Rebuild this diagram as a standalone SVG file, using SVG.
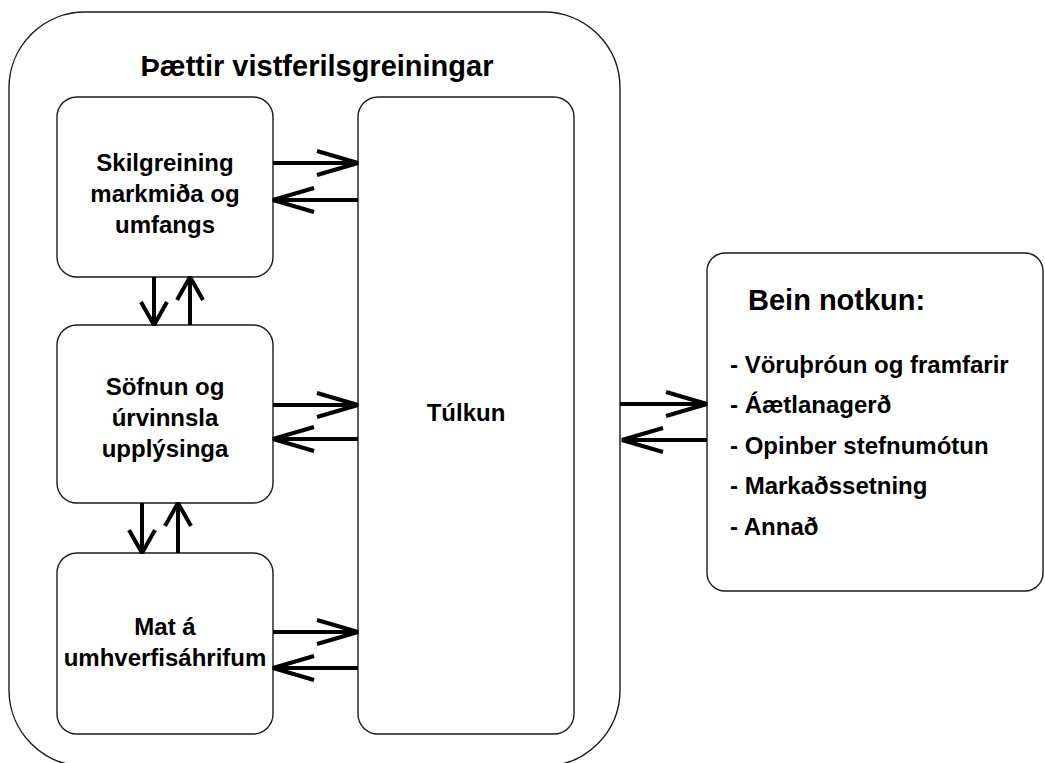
<svg xmlns="http://www.w3.org/2000/svg" width="1045" height="763" viewBox="0 0 1045 763">
<defs>
<style>
.box{fill:#fff;stroke:#1a1a1a;stroke-width:1.4}
.t{font-family:"Liberation Sans",Arial,sans-serif;font-weight:bold;fill:#000}
.c{text-anchor:middle;font-size:24px}
.ar{stroke:#000;stroke-width:4;fill:none}
.hd{stroke:#000;stroke-width:4;fill:none;stroke-linejoin:bevel}
</style>
<marker id="ah" markerUnits="userSpaceOnUse" viewBox="-46 -16 50 32" markerWidth="50" markerHeight="32" refX="0" refY="0" orient="auto" overflow="visible">
<path class="hd" d="M-41,-12 L0,0 L-41,12"/>
</marker>
<marker id="av" markerUnits="userSpaceOnUse" viewBox="-28 -16 32 32" markerWidth="32" markerHeight="32" refX="0" refY="0" orient="auto" overflow="visible">
<path class="hd" d="M-23,-13 L0,0 L-23,13"/>
</marker>
</defs>
<rect width="1045" height="763" fill="#fff"/>
<g id="outer">
<rect class="box" x="9" y="12" width="611" height="754" rx="76" ry="76"/>
<text class="t" x="317" y="76" font-size="29" text-anchor="middle">Þættir vistferilsgreiningar</text>
</g>
<g id="skilgreining">
<rect class="box" x="57" y="97" width="216" height="180" rx="20" ry="20"/>
<text class="t c" x="165" y="171">Skilgreining</text>
<text class="t c" x="165" y="202">markmiða og</text>
<text class="t c" x="165" y="233">umfangs</text>
</g>
<g id="sofnun">
<rect class="box" x="57" y="325" width="216" height="178" rx="20" ry="20"/>
<text class="t c" x="165" y="395">Söfnun og</text>
<text class="t c" x="165" y="426">úrvinnsla</text>
<text class="t c" x="165" y="457">upplýsinga</text>
</g>
<g id="mat">
<rect class="box" x="57" y="553" width="216" height="181" rx="20" ry="20"/>
<text class="t c" x="165" y="635">Mat á</text>
<text class="t c" x="165" y="666">umhverfisáhrifum</text>
</g>
<g id="tulkun">
<rect class="box" x="358" y="97" width="216" height="637" rx="20" ry="20"/>
<text class="t c" x="466" y="421">Túlkun</text>
</g>
<g id="bein">
<rect class="box" x="707" y="253" width="336" height="338" rx="18" ry="18"/>
<text class="t" x="748" y="310" font-size="29">Bein notkun:</text>
<g font-size="24">
<text class="t" x="730" y="373">- Vöruþróun og framfarir</text>
<text class="t" x="730" y="413">- Áætlanagerð</text>
<text class="t" x="730" y="454">- Opinber stefnumótun</text>
<text class="t" x="730" y="494">- Markaðssetning</text>
<text class="t" x="730" y="535">- Annað</text>
</g>
</g>
<g id="connectors">
<line class="ar" x1="273" y1="163" x2="358" y2="163" marker-end="url(#ah)"/>
<line class="ar" x1="358" y1="200" x2="273" y2="200" marker-end="url(#ah)"/>
<line class="ar" x1="273" y1="405" x2="358" y2="405" marker-end="url(#ah)"/>
<line class="ar" x1="358" y1="439" x2="273" y2="439" marker-end="url(#ah)"/>
<line class="ar" x1="273" y1="632" x2="358" y2="632" marker-end="url(#ah)"/>
<line class="ar" x1="358" y1="668" x2="273" y2="668" marker-end="url(#ah)"/>
<line class="ar" x1="620" y1="404" x2="707" y2="404" marker-end="url(#ah)"/>
<line class="ar" x1="707" y1="440" x2="622" y2="440" marker-end="url(#ah)"/>
<line class="ar" x1="154" y1="277" x2="154" y2="325" marker-end="url(#av)"/>
<line class="ar" x1="190" y1="325" x2="190" y2="277" marker-end="url(#av)"/>
<line class="ar" x1="142" y1="503" x2="142" y2="553" marker-end="url(#av)"/>
<line class="ar" x1="178" y1="553" x2="178" y2="503" marker-end="url(#av)"/>
</g>
</svg>
